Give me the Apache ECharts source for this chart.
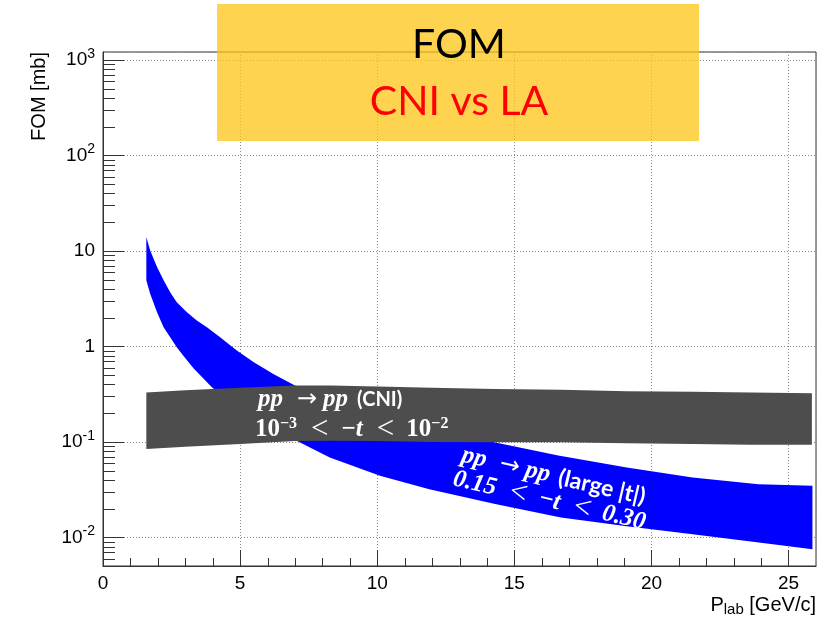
<!DOCTYPE html>
<html><head><meta charset="utf-8">
<script src="https://cdn.jsdelivr.net/npm/echarts@6/dist/echarts.min.js"></script>
<style>html,body{margin:0;padding:0;background:#fff}#c{width:833px;height:620px}</style>
</head><body><div id="c"></div>
<script>
// ---- data ----
const xTickValues = [0, 5, 10, 15, 20, 25];
const xMinorTicks = [1,2,3,4,6,7,8,9,11,12,13,14,16,17,18,19,21,22,23,24];
const yDecades = [-3, -2, -1, 0, 1, 2, 3];

// LA band (pp -> pp, large |t|), blue
const blueUpperP = [1.58, 1.72, 1.97, 2.21, 2.45, 2.69, 3.06, 3.42, 3.79, 4.27, 4.88, 5.5, 6.21, 7.0, 8.0, 10.0, 12.0, 14.0, 16.6, 19.1, 21.5, 23.9, 25.87];
const blueUpper  = [14.0, 10.1, 6.78, 4.92, 3.70, 2.91, 2.28, 1.87, 1.59, 1.25, 0.906, 0.684, 0.515, 0.389, 0.30, 0.197, 0.139, 0.103, 0.072, 0.054, 0.0424, 0.0361, 0.0347];
const blueLowerP = [1.58, 1.72, 1.97, 2.21, 2.45, 2.69, 2.93, 3.3, 3.97, 5.0, 6.0, 7.06, 8.27, 10.1, 11.9, 14.3, 16.7, 19.1, 21.5, 23.7, 25.87];
const blueLower  = [4.92, 3.56, 2.28, 1.59, 1.25, 0.98, 0.80, 0.59, 0.373, 0.22, 0.145, 0.103, 0.0688, 0.0442, 0.032, 0.0223, 0.0161, 0.0131, 0.0108, 0.0090, 0.0075];

// CNI band, grey
const greyP     = [1.58, 3.0, 5.0, 7.0, 8.3, 10.0, 12.0, 14.3, 16.7, 19.1, 21.5, 23.6, 25.85];
const greyUpper = [0.330, 0.347, 0.370, 0.389, 0.389, 0.380, 0.370, 0.359, 0.351, 0.339, 0.335, 0.330, 0.323];
const greyLower = [0.0841, 0.089, 0.095, 0.102, 0.103, 0.102, 0.100, 0.099, 0.099, 0.097, 0.095, 0.0935, 0.0935];

// ---- axes ranges ----
const X_MIN = 0, X_MAX = 26;
const Y_MIN = Math.pow(10, -2.30), Y_MAX = Math.pow(10, 3.084);

const yMinorTicks = [];
yDecades.forEach(function (e) {
  for (let m = 2; m <= 9; m++) {
    const v = m * Math.pow(10, e);
    if (v > Y_MIN && v < Y_MAX) yMinorTicks.push(v);
  }
});

const AX = '#333';
const SANS = 'Liberation Sans, Arial, sans-serif';
const SERIF = 'Liberation Serif, DejaVu Serif, serif';

function band(upX, upY, loX, loY, color) {
  return {
    type: 'custom', coordinateSystem: 'cartesian2d', silent: true, clip: true,
    data: [[upX[0], upY[0]]],
    renderItem: function (params, api) {
      const pts = [];
      for (let i = 0; i < upX.length; i++) pts.push(api.coord([upX[i], upY[i]]));
      for (let i = loX.length - 1; i >= 0; i--) pts.push(api.coord([loX[i], loY[i]]));
      return { type: 'polygon', shape: { points: pts }, style: { fill: color } };
    }
  };
}

function yLabel(v) {
  const e = Math.round(Math.log10(v));
  if (e === 0) return '{b|1}';
  if (e === 1) return '{b|10}';
  return '{b|10}{e|' + e + '}';
}

const chart = echarts.init(document.getElementById('c'), null, { renderer: 'canvas' });

const W = '#ffffff';
function mathRich(cSize) {
  return {
    i: { fontFamily: SERIF, fontWeight: 'bold', fontStyle: 'italic', fontSize: 25, fill: W, lineHeight: 28 },
    o: { fontFamily: SERIF, fontWeight: 'bold', fontSize: 25, fill: W, lineHeight: 28 },
    m: { fontFamily: SERIF, fontWeight: 'bold', fontSize: 25, fill: W, lineHeight: 28, padding: [0, 0, 0, 1] },
    l: { fontFamily: SERIF, fontSize: 31, fill: W, lineHeight: 28, padding: [0, 12, 0, 14] },
    a: { fontFamily: 'DejaVu Sans, sans-serif', fontSize: 24, fill: W, lineHeight: 28, padding: [0, 6, 0, 14] },
    c: { fontFamily: 'Lato, Open Sans, sans-serif', fontWeight: 'bold', fontSize: cSize, fill: W, lineHeight: 28, padding: [0, 0, 0, 9] },
    s: { fontFamily: SERIF, fontWeight: 'bold', fontSize: 16, fill: W, lineHeight: 14, verticalAlign: 'top' }
  };
}

const option = {
  animation: false,
  backgroundColor: '#fff',
  grid: { left: 103, right: 17, top: 52, bottom: 54, show: true, borderColor: AX, borderWidth: 1, backgroundColor: 'transparent', containLabel: false, outerBoundsMode: 'none' },
  xAxis: {
    type: 'value', min: X_MIN, max: X_MAX, interval: 5,
    axisLine: { show: true, onZero: false, lineStyle: { color: AX, width: 1 } },
    axisTick: { show: true, inside: true, length: 16, lineStyle: { color: AX } },
    minorTick: { show: false },
    splitLine: { show: true, lineStyle: { color: '#888', width: 1, type: [1, 2] } },
    axisLabel: { show: true, fontFamily: SANS, fontSize: 19, color: '#000', margin: 8, showMaxLabel: false,
      formatter: function (v) { return xTickValues.indexOf(v) >= 0 ? String(v) : ''; } }
  },
  yAxis: {
    type: 'log', logBase: 10, min: Y_MIN, max: Y_MAX,
    axisLine: { show: true, lineStyle: { color: AX, width: 1 } },
    axisTick: { show: true, inside: true, length: 21, lineStyle: { color: AX } },
    minorTick: { show: false },
    splitLine: { show: true, lineStyle: { color: '#888', width: 1, type: [1, 2] } },
    axisLabel: { show: true, showMinLabel: false, showMaxLabel: false, margin: 8, color: '#000',
      formatter: yLabel,
      rich: {
        b: { fontFamily: SANS, fontSize: 19, color: '#000', lineHeight: 26 },
        e: { fontFamily: SANS, fontSize: 14, color: '#000', lineHeight: 12, verticalAlign: 'top' }
      } }
  },
  series: [
    band(blueUpperP, blueUpper, blueLowerP, blueLower, '#0000ff'),
    band(greyP, greyUpper, greyP, greyLower, '#4d4d4d'),
    {
      type: 'custom', silent: true, clip: false, z: 5,
      data: xMinorTicks.map(function (v) { return [v, Y_MIN]; }),
      renderItem: function (p, api) {
        const c = api.coord([api.value(0), Y_MIN]);
        const x = Math.round(c[0]) + 0.5;
        return { type: 'line', shape: { x1: x, y1: c[1], x2: x, y2: c[1] - 8 }, style: { stroke: AX, lineWidth: 1 } };
      }
    },
    {
      type: 'custom', silent: true, clip: false, z: 5,
      data: yMinorTicks.map(function (v) { return [X_MIN, v]; }),
      renderItem: function (p, api) {
        const c = api.coord([X_MIN, api.value(1)]);
        const y = Math.round(c[1]) + 0.5;
        return { type: 'line', shape: { x1: c[0], y1: y, x2: c[0] + 12, y2: y }, style: { stroke: AX, lineWidth: 1 } };
      }
    }
  ],
  graphic: [
    { type: 'text', x: 39, y: 52, rotation: Math.PI / 2, z: 50,
      style: { text: 'FOM [mb]', fontFamily: SANS, fontSize: 20, fill: '#000', align: 'right', verticalAlign: 'middle' } },
    { type: 'text', x: 816, y: 605, z: 50,
      style: { text: '{m|P}{s|lab}{m| [GeV/c]}', align: 'right', verticalAlign: 'middle',
        rich: { m: { fontFamily: SANS, fontSize: 20, fill: '#000', lineHeight: 24 },
                s: { fontFamily: SANS, fontSize: 15, fill: '#000', lineHeight: 4, verticalAlign: 'bottom' } } } },
    // CNI band label
    { type: 'text', x: 258, y: 400, z: 60,
      style: { text: '{i|pp}{a|→}{i|pp}{c|(CNI)}', align: 'left', verticalAlign: 'middle', rich: mathRich(20) } },
    { type: 'text', x: 255, y: 430, z: 60,
      style: { text: '{o|10}{s|−3}{l|<}{m|−}{i|t}{l|<}{o|10}{s|−2}', align: 'left', verticalAlign: 'middle', rich: mathRich(20) } },
    // LA band label (rotated)
    { type: 'group', x: 462, y: 455, rotation: -13 * Math.PI / 180, z: 60,
      children: [
        { type: 'text', x: 0, y: 0, z: 60,
          style: { text: '{i|pp}{a|→}{i|pp}{c|(large |t|)}', align: 'left', verticalAlign: 'middle', rich: mathRich(23) } },
        { type: 'text', x: -3, y: 25, z: 60,
          style: { text: '{i|0.15}{l|<}{m|−}{i|t}{l|<}{i|0.30}', align: 'left', verticalAlign: 'middle', rich: mathRich(23) } }
      ] },
    // title box
    { type: 'rect', z: 100, shape: { x: 217, y: 4, width: 482, height: 137 },
      style: { fill: 'rgba(252,196,20,0.75)' } },
    { type: 'text', x: 459, y: 45, z: 101,
      style: { text: 'FOM', fontFamily: 'Lato, Carlito, sans-serif', fontSize: 41, fill: '#000', align: 'center', verticalAlign: 'middle' } },
    { type: 'text', x: 459, y: 102, z: 101,
      style: { text: 'CNI vs LA', fontFamily: 'Lato, Carlito, sans-serif', fontSize: 41, fill: '#ff0000', align: 'center', verticalAlign: 'middle' } }
  ]
};
chart.setOption(option);
</script>
</body></html>
